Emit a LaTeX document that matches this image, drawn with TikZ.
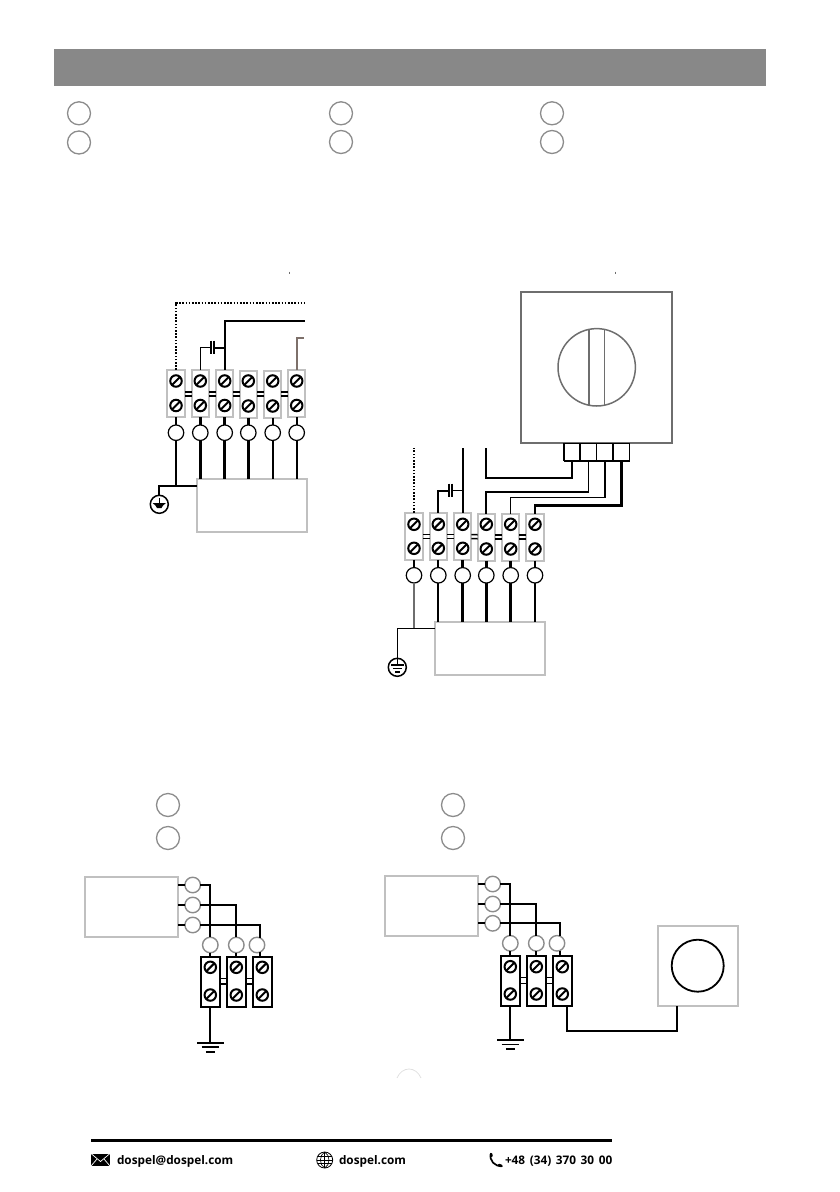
\documentclass[tikz,border=0pt]{standalone}
\usepackage{fontspec}
\setmainfont{Open Sans}
\usetikzlibrary{positioning, shapes}
\definecolor{headgray}{HTML}{888888}
\definecolor{framegray}{HTML}{C0C0C0}
\definecolor{darkframe}{HTML}{6E6E6E}
\definecolor{ringgray}{HTML}{8C8C8C}
\definecolor{brownwire}{HTML}{7D706A}
\tikzset{
  ring/.style={circle, draw=ringgray, line width=1.3pt, minimum size=23pt, inner sep=0pt, outer sep=0pt},
  smallring/.style={circle, draw=ringgray, line width=1.4pt, fill=white, minimum size=15.5pt, inner sep=0pt, outer sep=0pt},
  blackring/.style={circle, draw=black, line width=1.2pt, fill=white, minimum size=15.5pt, inner sep=0pt, outer sep=0pt},
  grayblock/.style={draw=framegray, line width=2pt, fill=white, minimum width=17.5pt, minimum height=47pt, inner sep=0pt, outer sep=0pt},
  blackblock/.style={draw=black, line width=1.8pt, fill=white, minimum width=19pt, minimum height=50pt, inner sep=0pt, outer sep=0pt},
  graybox/.style={draw=framegray, line width=2pt, inner sep=0pt, outer sep=0pt},
  screw/.style={circle, draw=black, line width=2pt, minimum size=11.5pt, inner sep=0pt, outer sep=0pt, path picture={\draw[line width=2pt] (path picture bounding box.south west) -- (path picture bounding box.north east);}},
  thinwire/.style={line width=1.2pt, black},
  midwire/.style={line width=1.8pt, black},
  thickwire/.style={line width=2.8pt, black},
  dotwire/.style={line width=2pt, black, dash pattern=on 1.6pt off 1.6pt},
  linkbar/.style={line width=1.6pt, black},
  footer/.style={font=\bfseries\fontsize{11.8}{14}\selectfont, inner sep=0pt, outer sep=0pt, anchor=west}
}
\begin{document}
\begin{tikzpicture}[x=1pt, y=-1pt]
\useasboundingbox (0,0) rectangle (840,1192);
% header
\node [fill=headgray, minimum width=712pt, minimum height=37pt, inner sep=0pt] (head) at (410,67.5) {};
\node [ring] (h1) at (79,113.3) {};
\node [ring] (h2) at (79,142.5) {};
\node [ring] (h3) at (341,113.3) {};
\node [ring] (h4) at (341,142) {};
\node [ring] (h5) at (552,113.3) {};
\node [ring] (h6) at (552,142) {};
\node [ring] (h7) at (168,805) {};
\node [ring] (h8) at (168,838) {};
\node [ring] (h9) at (453,805) {};
\node [ring] (h10) at (453,838) {};
\draw [darkframe, line width=.6pt] (289.3,271.5) -- (289.3,274);
\draw [darkframe, line width=.6pt] (615.5,271.5) -- (615.5,274);

% first terminal row
\node [grayblock] (a1) at (176,393.5) {};
\node [grayblock] (a2) at (200.3,393.5) {};
\node [grayblock] (a3) at (224.7,393.5) {};
\node [grayblock] (a4) at (248.3,394) {};
\node [grayblock] (a5) at (272.7,394) {};
\node [grayblock] (a6) at (296.7,393.5) {};
\node [screw] (as1) at (176,381) {};  \node [screw] (as2) at (176,405.5) {};
\node [screw] (as3) at (200.3,381) {};  \node [screw] (as4) at (200.3,405.5) {};
\node [screw] (as5) at (224.7,381) {};  \node [screw] (as6) at (224.7,405.5) {};
\node [screw] (as7) at (248.3,381) {};  \node [screw] (as8) at (248.3,406) {};
\node [screw] (as9) at (272.7,381) {};  \node [screw] (as10) at (272.7,406) {};
\node [screw] (as11) at (296.7,381) {};  \node [screw] (as12) at (296.7,405.5) {};
\node [blackring] (ac1) at (176,432.7) {};
\node [blackring] (ac2) at (200.3,432.7) {};
\node [blackring] (ac3) at (224.7,432.7) {};
\node [blackring] (ac4) at (248.3,432.7) {};
\node [blackring] (ac5) at (272.7,432.7) {};
\node [blackring] (ac6) at (296.7,432.7) {};
\node [graybox, minimum width=110.6pt, minimum height=52.7pt] (abox) at (252,505.3) {};
\node [circle, draw=black, line width=1.5pt, minimum size=18pt, inner sep=0pt, outer sep=0pt] (aearth) at (159.3,504.3) {};
\coordinate (adot) at (305,302.7);
\coordinate (asol) at (305,321.3);
\coordinate (abrown) at (304,338.3);
\coordinate (acapl) at (210.7,347.7);
\coordinate (acapr) at (214,347.7);

\draw [dotwire] (a1.north) |- (adot);
\draw [midwire, line width=2.2pt] (a3.north) |- (asol);
\draw [midwire, brownwire] (a6.north) |- (abrown);
\draw [thinwire] (a2.north) |- (acapl);
\draw [midwire] (acapr) -- (acapr -| a3.north);
\draw [midwire] ([yshift=7pt]acapl) -- ([yshift=-6pt]acapl);
\draw [midwire] ([yshift=7pt]acapr) -- ([yshift=-6pt]acapr);
\draw [linkbar] ([yshift=1.7pt]a1.east) -- ([yshift=1.7pt]a2.west);
\draw [linkbar] ([yshift=-2.3pt]a1.east) -- ([yshift=-2.3pt]a2.west);
\draw [linkbar] ([yshift=1.7pt]a2.east) -- ([yshift=1.7pt]a3.west);
\draw [linkbar] ([yshift=-2.3pt]a2.east) -- ([yshift=-2.3pt]a3.west);
\draw [linkbar] ([yshift=1.7pt]a3.east) -- ([yshift=2.2pt]a4.west);
\draw [linkbar] ([yshift=-2.3pt]a3.east) -- ([yshift=-1.8pt]a4.west);
\draw [linkbar] ([yshift=2.2pt]a4.east) -- ([yshift=2.2pt]a5.west);
\draw [linkbar] ([yshift=-1.8pt]a4.east) -- ([yshift=-1.8pt]a5.west);
\draw [linkbar] ([yshift=2.2pt]a5.east) -- ([yshift=1.7pt]a6.west);
\draw [linkbar] ([yshift=-1.8pt]a5.east) -- ([yshift=-2.3pt]a6.west);
\draw [thinwire] (a1.south) -- (ac1.north);
\draw [thickwire] (a2.south) -- (ac2.north);
\draw [thickwire] (a3.south) -- (ac3.north);
\draw [thickwire] (a4.south) -- (ac4.north);
\draw [midwire] (a5.south) -- (ac5.north);
\draw [midwire] (a6.south) -- (ac6.north);
\draw [thickwire] (ac2.south) -- (ac2.south |- abox.north);
\draw [thickwire] (ac3.south) -- (ac3.south |- abox.north);
\draw [thickwire] (ac4.south) -- (ac4.south |- abox.north);
\draw [midwire] (ac5.south) -- (ac5.south |- abox.north);
\draw [midwire] (ac6.south) -- (ac6.south |- abox.north);
\draw [midwire, line width=2.2pt] (aearth.north) |- (abox.west |- 0,485.7);
\draw [thinwire] (ac1.south) -- (ac1.south |- 0,485.7);
\fill (152.5,503) -- (166,503) -- (163,505.5) -- (161.5,508) -- (157,508) -- (155.5,505.5) -- cycle;
\draw [thinwire] (159.3,498) -- (159.3,503);

% second terminal row
\node [grayblock] (b1) at (414,536.3) {};
\node [grayblock] (b2) at (438.3,536.3) {};
\node [grayblock] (b3) at (462.7,536.3) {};
\node [grayblock] (b4) at (486.3,537) {};
\node [grayblock] (b5) at (510.7,537) {};
\node [grayblock] (b6) at (535,537) {};
\node [screw] (bs1) at (414,524.3) {};  \node [screw] (bs2) at (414,548.3) {};
\node [screw] (bs3) at (438.3,524.3) {};  \node [screw] (bs4) at (438.3,548.3) {};
\node [screw] (bs5) at (462.7,524.3) {};  \node [screw] (bs6) at (462.7,548.3) {};
\node [screw] (bs7) at (486.3,524.3) {};  \node [screw] (bs8) at (486.3,549) {};
\node [screw] (bs9) at (510.7,524.3) {};  \node [screw] (bs10) at (510.7,549) {};
\node [screw] (bs11) at (535,524.3) {};  \node [screw] (bs12) at (535,549) {};
\node [blackring] (bc1) at (414,575.3) {};
\node [blackring] (bc2) at (438.3,575.3) {};
\node [blackring] (bc3) at (462.7,575.3) {};
\node [blackring] (bc4) at (486.3,575.3) {};
\node [blackring] (bc5) at (510.7,575.3) {};
\node [blackring] (bc6) at (535,575.3) {};
\node [graybox, minimum width=110.6pt, minimum height=53pt] (bbox) at (490,648.5) {};
\node [circle, draw=black, line width=1.5pt, minimum size=18pt, inner sep=0pt, outer sep=0pt] (bearth) at (397.3,667.3) {};
% knob box
\node [draw=darkframe, line width=2pt, minimum width=151.6pt, minimum height=150.7pt, inner sep=0pt, outer sep=0pt] (knob) at (596.5,367.3) {};
\node [circle, draw=darkframe, line width=1.5pt, minimum size=77.4pt, inner sep=0pt, outer sep=0pt] (dial) at (596.7,367.3) {};
\draw [darkframe, line width=2pt] (589,329.4) -- (589,405.2);
\draw [darkframe, line width=1.1pt] (604.3,329.4) -- (604.3,405.2);
\node [draw=black, line width=1.2pt, minimum width=16.6pt, minimum height=17.4pt, inner sep=0pt, outer sep=0pt] (cn1) at (572,452) {};
\node [draw=black, line width=1.2pt, minimum width=16.6pt, minimum height=17.4pt, inner sep=0pt, outer sep=0pt] (cn2) at (588.4,452) {};
\node [draw=black, line width=1.2pt, minimum width=16.6pt, minimum height=17.4pt, inner sep=0pt, outer sep=0pt] (cn3) at (605,452) {};
\node [draw=black, line width=1.2pt, minimum width=16.6pt, minimum height=17.4pt, inner sep=0pt, outer sep=0pt] (cn4) at (621.3,452) {};
\draw [midwire] (cn1.south west) -- (cn1.north west);
\draw [midwire] (cn2.south west) -- (cn2.north west);
\draw [midwire] (cn4.south west) -- (cn4.north west);
\draw [midwire] (cn1.south west) -- (cn4.south east);
\coordinate (bdot) at (414,448.3);
\coordinate (bsol) at (462.7,448.3);
\coordinate (bfree) at (486.3,448.3);
\coordinate (bk1) at (486.3,478);
\coordinate (bk2) at (486.3,491.7);
\coordinate (bk3) at (510.7,497.3);
\coordinate (bk4) at (535,505.7);
\coordinate (bcapl) at (449,490.7);
\coordinate (bcapr) at (452.3,490.7);

\draw [dotwire] (b1.north) -- (bdot);
\draw [midwire] (b3.north) -- (bsol);
\draw [midwire, line width=2.2pt] (bfree) -- (bk1) -| (cn1.south);
\draw [midwire] (cn2.south) |- (bk2) -- (b4.north);
\draw [thinwire] (cn3.south) |- (bk3) -- (b5.north);
\draw [thickwire] (cn4.south) |- (bk4) -- (b6.north);
\draw [midwire] (b2.north) |- (bcapl);
\draw [thinwire] (bcapr) -- (bcapr -| b3.north);
\draw [midwire] ([yshift=7pt]bcapl) -- ([yshift=-6pt]bcapl);
\draw [midwire] ([yshift=7pt]bcapr) -- ([yshift=-6pt]bcapr);
\draw [linkbar] ([yshift=1.7pt]b1.east) -- ([yshift=1.7pt]b2.west);
\draw [linkbar] ([yshift=-2.3pt]b1.east) -- ([yshift=-2.3pt]b2.west);
\draw [linkbar] ([yshift=1.7pt]b2.east) -- ([yshift=1.7pt]b3.west);
\draw [linkbar] ([yshift=-2.3pt]b2.east) -- ([yshift=-2.3pt]b3.west);
\draw [linkbar] ([yshift=1.7pt]b3.east) -- ([yshift=2.3pt]b4.west);
\draw [linkbar] ([yshift=-2.3pt]b3.east) -- ([yshift=-1.7pt]b4.west);
\draw [linkbar] ([yshift=2.3pt]b4.east) -- ([yshift=2.3pt]b5.west);
\draw [linkbar] ([yshift=-1.7pt]b4.east) -- ([yshift=-1.7pt]b5.west);
\draw [linkbar] ([yshift=2.3pt]b5.east) -- ([yshift=2.3pt]b6.west);
\draw [linkbar] ([yshift=-1.7pt]b5.east) -- ([yshift=-1.7pt]b6.west);
\draw [thinwire] (b1.south) -- (bc1.north);
\draw [midwire] (b2.south) -- (bc2.north);
\draw [thickwire] (b3.south) -- (bc3.north);
\draw [thickwire] (b4.south) -- (bc4.north);
\draw [thickwire] (b5.south) -- (bc5.north);
\draw [midwire] (b6.south) -- (bc6.north);
\draw [midwire, darkframe] (bc1.south) -- (bc1.south |- 0,628.3);
\draw [midwire] (bc2.south) -- (bc2.south |- bbox.north);
\draw [thickwire] (bc3.south) -- (bc3.south |- bbox.north);
\draw [thickwire] (bc4.south) -- (bc4.south |- bbox.north);
\draw [thickwire] (bc5.south) -- (bc5.south |- bbox.north);
\draw [midwire] (bc6.south) -- (bc6.south |- bbox.north);
\draw [thinwire] (bearth.north) |- (bbox.west |- 0,628.3);
\draw [thinwire] (397.3,658) -- (397.3,665);
\draw [thinwire] (391,665) -- (403.6,665);
\draw [thinwire] (393,668.5) -- (401.6,668.5);
\draw [thinwire] (395,672) -- (399.6,672);

% left lower group
\node [graybox, minimum width=93.3pt, minimum height=60.3pt] (cbox) at (131.7,906.8) {};
\node [smallring] (cc1) at (192.7,885) {};
\node [smallring] (cc2) at (192.7,905) {};
\node [smallring] (cc3) at (192.7,925) {};
\node [smallring] (cc4) at (210.3,945) {};
\node [smallring] (cc5) at (236.3,945) {};
\node [smallring] (cc6) at (257,945) {};
\node [blackblock] (c1) at (210.3,981.7) {};
\node [blackblock] (c2) at (236.3,981.7) {};
\node [blackblock] (c3) at (262.3,981.7) {};
\node [screw] (cs1) at (210.3,967.3) {};  \node [screw] (cs2) at (210.3,995) {};
\node [screw] (cs3) at (236.3,967.3) {};  \node [screw] (cs4) at (236.3,995) {};
\node [screw] (cs5) at (262.3,967.3) {};  \node [screw] (cs6) at (262.3,995) {};
\coordinate (cgnd) at (210.3,1042.7);

\draw [midwire] (cc1.west -| cbox.east) -- (cc1.west);
\draw [midwire] (cc2.west -| cbox.east) -- (cc2.west);
\draw [midwire] (cc3.west -| cbox.east) -- (cc3.west);
\draw [midwire] (cc1.east) -| (cc4.north);
\draw [midwire] (cc2.east) -| (cc5.north);
\draw [midwire] (cc3.east) -| (cc6.70);
\draw [midwire] (cc4.south) -- (c1.north);
\draw [midwire] (cc5.south) -- (c2.north);
\draw [midwire] (cc6.290) -- (cc6.290 |- c3.north);
\draw [linkbar, line width=1.2pt] ([yshift=3.2pt]c1.east) -- ([yshift=3.2pt]c2.west);
\draw [linkbar, line width=1.2pt] ([yshift=-2.2pt]c1.east) -- ([yshift=-2.2pt]c2.west);
\draw [linkbar, line width=1.2pt] ([yshift=3.2pt]c2.east) -- ([yshift=3.2pt]c3.west);
\draw [linkbar, line width=1.2pt] ([yshift=-2.2pt]c2.east) -- ([yshift=-2.2pt]c3.west);
\draw [midwire] (c1.south) -- (cgnd);
\draw [midwire] ([xshift=-13.3pt]cgnd) -- ([xshift=13.3pt]cgnd);
\draw [midwire] ([xshift=-8.7pt,yshift=-4.5pt]cgnd) -- ([xshift=8.7pt,yshift=-4.5pt]cgnd);
\draw [line width=2.4pt] ([xshift=-4.5pt,yshift=-9pt]cgnd) -- ([xshift=4.5pt,yshift=-9pt]cgnd);

% right lower group
\node [graybox, minimum width=93.3pt, minimum height=60.3pt] (dbox) at (431.7,905.8) {};
\node [smallring] (dc1) at (492.7,884) {};
\node [smallring] (dc2) at (492.7,904) {};
\node [smallring] (dc3) at (492.7,923.3) {};
\node [smallring] (dc4) at (510.3,943.3) {};
\node [smallring] (dc5) at (536.3,943.3) {};
\node [smallring] (dc6) at (557,943.3) {};
\node [blackblock] (d1) at (510.3,981) {};
\node [blackblock] (d2) at (536.3,981) {};
\node [blackblock] (d3) at (562.3,981) {};
\node [screw] (ds1) at (510.3,966.7) {};  \node [screw] (ds2) at (510.3,994) {};
\node [screw] (ds3) at (536.3,966.7) {};  \node [screw] (ds4) at (536.3,994) {};
\node [screw] (ds5) at (562.3,966.7) {};  \node [screw] (ds6) at (562.3,994) {};
\node [graybox, minimum width=80.6pt, minimum height=80pt] (sensor) at (698,966) {};
\node [circle, draw=black, line width=1.8pt, minimum size=52pt, inner sep=0pt, outer sep=0pt] (lens) at (697.7,965.7) {};
\coordinate (dgnd) at (510.3,1040);
\coordinate (dout) at (567.3,1030.7);

\draw [midwire] (dc1.west -| dbox.east) -- (dc1.west);
\draw [midwire] (dc2.west -| dbox.east) -- (dc2.west);
\draw [midwire] (dc3.west -| dbox.east) -- (dc3.west);
\draw [midwire] (dc1.east) -| (dc4.north);
\draw [midwire] (dc2.east) -| (dc5.north);
\draw [midwire] (dc3.east) -| (dc6.70);
\draw [midwire] (dc4.south) -- (d1.north);
\draw [midwire] (dc5.south) -- (d2.north);
\draw [midwire] (dc6.290) -- (dc6.290 |- d3.north);
\draw [linkbar, line width=1.2pt] ([yshift=3.2pt]d1.east) -- ([yshift=3.2pt]d2.west);
\draw [linkbar, line width=1.2pt] ([yshift=-2.2pt]d1.east) -- ([yshift=-2.2pt]d2.west);
\draw [linkbar, line width=1.2pt] ([yshift=3.2pt]d2.east) -- ([yshift=3.2pt]d3.west);
\draw [linkbar, line width=1.2pt] ([yshift=-2.2pt]d2.east) -- ([yshift=-2.2pt]d3.west);
\draw [midwire] (d1.south) -- (dgnd);
\draw [line width=2.4pt] ([xshift=-13.3pt]dgnd) -- ([xshift=13.3pt]dgnd);
\draw [midwire] ([xshift=-8.7pt,yshift=-4.5pt]dgnd) -- ([xshift=8.7pt,yshift=-4.5pt]dgnd);
\draw [thinwire] ([xshift=-4.5pt,yshift=-9pt]dgnd) -- ([xshift=4.5pt,yshift=-9pt]dgnd);
\draw [midwire, line width=2.2pt] (d3.south -| dout) -- (dout) -| (sensor.south -| 676.7,0);
\draw [line width=.8pt, black!12] (397,1078) .. controls (402,1066) and (416,1066) .. (421,1078);

% footer
\draw [line width=2.8pt] (91,1140.7) -- (612,1140.7);
\node [footer] (mail) at (117,1161) {dospel@dospel.com};
\node [footer] (site) at (339,1161) {dospel.com};
\node [footer] (phone) at (505,1161) {{\spaceskip=4.6pt\relax +48 (34) 370 30 00}};
\fill (91,1153.5) rectangle (110,1166);
\draw [white, line width=.7pt] (91,1153.5) -- (100.5,1161.5) -- (110,1153.5);
\draw [white, line width=.7pt] (91,1166) -- (97,1159);
\draw [white, line width=.7pt] (110,1166) -- (104,1159);
\node [circle, draw=black, line width=.8pt, minimum size=16pt, inner sep=0pt, outer sep=0pt] (globe) at (324.7,1160) {};
\draw [line width=.6pt] (globe.north) .. controls (319,1155) and (319,1165) .. (globe.south);
\draw [line width=.6pt] (globe.north) .. controls (330.4,1155) and (330.4,1165) .. (globe.south);
\draw [line width=.6pt] (globe.north) -- (globe.south);
\draw [line width=.6pt] (globe.west) -- (globe.east);
\draw [line width=.6pt] (317.8,1156.5) -- (331.6,1156.5);
\draw [line width=.6pt] (317.8,1163.5) -- (331.6,1163.5);
\draw [line width=1.7pt] (491,1153.5) .. controls (488.5,1160) and (495,1167) .. (502,1166);
\draw [line width=2.6pt, line cap=round] (491,1154) -- (491.5,1156);
\draw [line width=2.6pt, line cap=round] (499,1165) -- (501.5,1166);
\end{tikzpicture}
\end{document}
